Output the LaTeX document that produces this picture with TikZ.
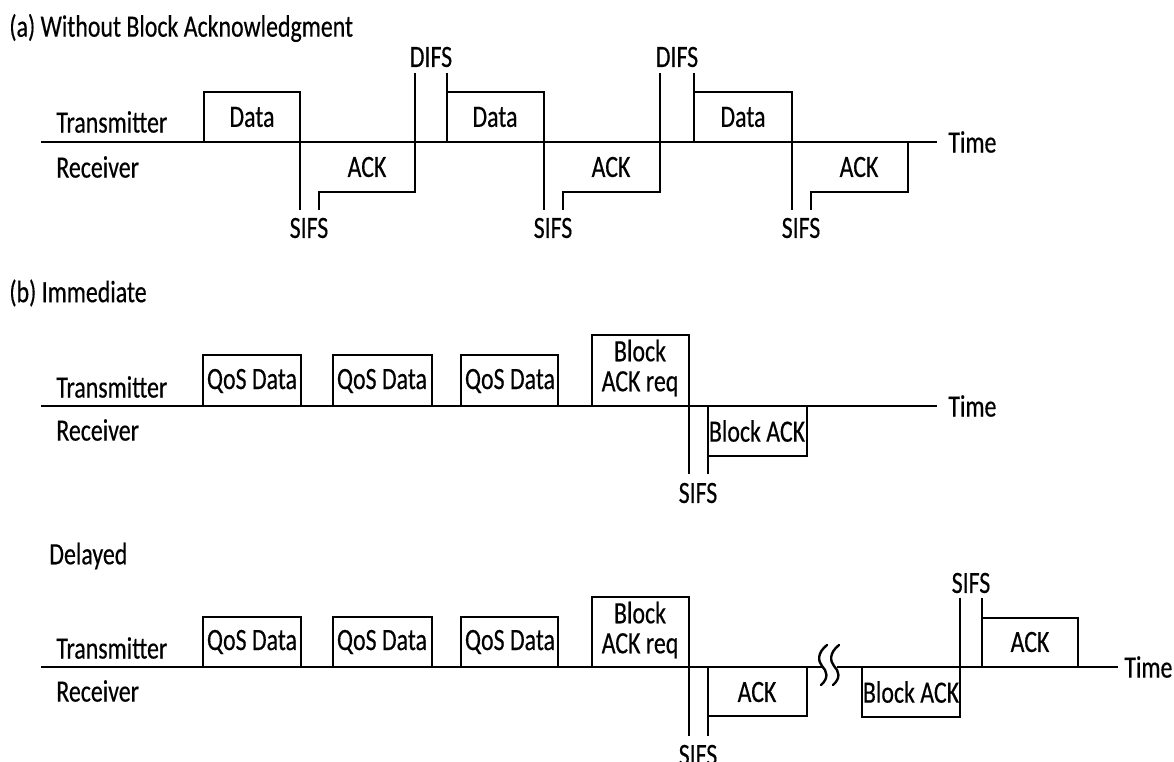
\documentclass[tikz,border=0pt]{standalone}
\usepackage{fontspec}
\setmainfont{Carlito}[FakeStretch=0.77,FakeBold=0.4]
\begin{document}
\begin{tikzpicture}[x=1pt,y=-1pt,line width=2.7pt,line join=miter,
  lbl/.style={inner sep=0pt,font=\fontsize{31}{31}\selectfont},
  twolbl/.style={inner sep=0pt,align=center,font=\fontsize{31}{30}\selectfont},
  wave/.style={line width=2.4pt,line cap=round}]
\useasboundingbox (0,0) rectangle (1174,762);

% ---------------- (a) ----------------
\node[lbl,anchor=west] (ttlA) at (8,28) {(a) Without Block Acknowledgment};
\node[lbl,anchor=west] (trA) at (55,122) {Transmitter};
\node[lbl,anchor=west] (rcA) at (55,167) {Receiver};
\coordinate (aS) at (41,142);
\coordinate (aE) at (937,142);
\draw (aS) -- (aE);
\node[lbl,anchor=west] (timeA) at (947,142) {Time};

% cycle 1
\draw (204,142) -- (204,92) -- (300,92) -- (300,210);
\draw (319,210) -- (319,192) -- (415,192) -- (415,73);
\node[lbl] (dataA1) at (252,117) {Data};
\node[lbl] (ackA1) at (367,167) {ACK};
\node[lbl] (sifsA1) at (309,228) {SIFS};
% cycle 2
\draw (447,73) -- (447,92) -- (544,92) -- (544,210);
\draw (447,142) -- (447,92);
\draw (563,210) -- (563,192) -- (660,192) -- (660,73);
\node[lbl] (difsA1) at (431,57) {DIFS};
\node[lbl] (dataA2) at (495,117) {Data};
\node[lbl] (ackA2) at (611,167) {ACK};
\node[lbl] (sifsA2) at (553,228) {SIFS};
% cycle 3
\draw (694,73) -- (694,92) -- (792,92) -- (792,210);
\draw (694,142) -- (694,92);
\draw (811,210) -- (811,192) -- (908,192) -- (908,142);
\node[lbl] (difsA2) at (677,57) {DIFS};
\node[lbl] (dataA3) at (743,117) {Data};
\node[lbl] (ackA3) at (859,167) {ACK};
\node[lbl] (sifsA3) at (801,228) {SIFS};

% ---------------- (b) Immediate ----------------
\node[lbl,anchor=west] (ttlB) at (8,293) {(b) Immediate};
\node[lbl,anchor=west] (trB) at (55,387) {Transmitter};
\node[lbl,anchor=west] (rcB) at (55,430) {Receiver};
\coordinate (bS) at (41,406);
\coordinate (bE) at (937,406);
\draw (bS) -- (bE);
\node[lbl,anchor=west] (timeB) at (947,406) {Time};

\draw (203,406) -- (203,355) -- (301,355) -- (301,406);
\draw (333,406) -- (333,355) -- (432,355) -- (432,406);
\draw (461,406) -- (461,355) -- (558,355) -- (558,406);
\node[lbl] (qosB1) at (252,381) {QoS Data};
\node[lbl] (qosB2) at (382,381) {QoS Data};
\node[lbl] (qosB3) at (510,381) {QoS Data};
\draw (592,406) -- (592,335) -- (689,335) -- (689,474);
\node[twolbl] (barB) at (640,368) {Block\\ACK req};
\draw (708,474) -- (708,456) -- (807,456) -- (807,406);
\draw (708,456) -- (708,406);
\node[lbl] (backB) at (757,431) {Block ACK};
\node[lbl] (sifsB) at (698,493) {SIFS};

% ---------------- Delayed ----------------
\node[lbl,anchor=west] (ttlC) at (48,556) {Delayed};
\node[lbl,anchor=west] (trC) at (55,648) {Transmitter};
\node[lbl,anchor=west] (rcC) at (55,691) {Receiver};
\coordinate (cS) at (41,667);
\coordinate (cB1) at (823,667);
\coordinate (cB2) at (837,667);
\coordinate (cE) at (1118,667);
\draw (cS) -- (cB1);
\draw (cB2) -- (cE);
\node[lbl,anchor=west] (timeC) at (1123,667) {Time};

\draw (203,667) -- (203,617) -- (301,617) -- (301,667);
\draw (333,667) -- (333,617) -- (432,617) -- (432,667);
\draw (461,667) -- (461,617) -- (558,617) -- (558,667);
\node[lbl] (qosC1) at (252,642) {QoS Data};
\node[lbl] (qosC2) at (382,642) {QoS Data};
\node[lbl] (qosC3) at (510,642) {QoS Data};
\draw (592,667) -- (592,597) -- (689,597) -- (689,736);
\node[twolbl] (barC) at (640,630) {Block\\ACK req};
\draw (708,736) -- (708,716) -- (807,716) -- (807,667);
\draw (708,716) -- (708,667);
\node[lbl] (ackC1) at (757,692) {ACK};
\node[lbl] (sifsC1) at (698,755) {SIFS};

% break marks
\draw[wave] (827,645) .. controls (817,653) and (818,661) .. (822,666) .. controls (827,671) and (829,678) .. (821,685);
\draw[wave] (839,645) .. controls (829,653) and (830,661) .. (834,666) .. controls (839,671) and (841,678) .. (833,685);

\draw (862,667) -- (862,717) -- (960,717) -- (960,598);
\node[lbl] (backC) at (911,692) {Block ACK};
\draw (982,598) -- (982,618) -- (1078,618) -- (1078,667);
\draw (982,618) -- (982,667);
\node[lbl] (ackC2) at (1030,642) {ACK};
\node[lbl] (sifsC2) at (971,583) {SIFS};
\end{tikzpicture}
\end{document}
